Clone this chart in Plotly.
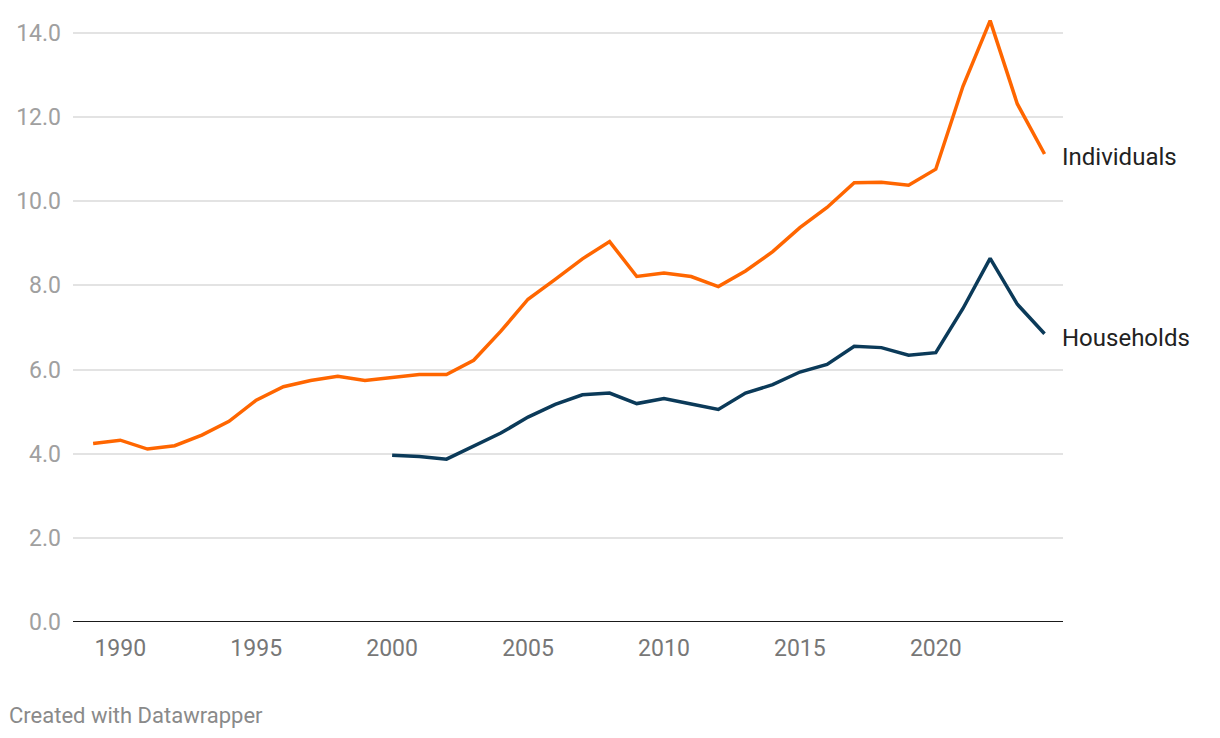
import plotly.graph_objects as go

years_ind = list(range(1989, 2025))
individuals = [4.24, 4.32, 4.11, 4.19, 4.44, 4.77, 5.27, 5.59, 5.74, 5.84,
               5.74, 5.80, 5.88, 5.88, 6.22, 6.91, 7.67, 8.14, 8.63, 9.04,
               8.21, 8.29, 8.21, 7.97, 8.34, 8.80, 9.37, 9.85, 10.44, 10.45,
               10.38, 10.76, 12.73, 14.29, 12.31, 11.12]

years_hh = list(range(2000, 2025))
households = [3.96, 3.93, 3.87, 4.19, 4.49, 4.87, 5.17, 5.40, 5.44, 5.19,
              5.31, 5.18, 5.05, 5.44, 5.64, 5.94, 6.12, 6.55, 6.52, 6.34,
              6.40, 7.45, 8.64, 7.55, 6.85]

y_ticks = [0, 2, 4, 6, 8, 10, 12, 14]
x_ticks = [1990, 1995, 2000, 2005, 2010, 2015, 2020]

ORANGE = "#ff6600"
NAVY = "#0b3a59"
FONT = "Roboto"

# page body has an 8px margin; plot area target: x 68..1063, y 16..622 (page px)
L, T = 60, 8
PW, PH = 995, 606
W, H = 1220, 738

fig = go.Figure()
fig.add_trace(go.Scatter(x=years_ind, y=individuals, mode="lines",
                         line=dict(color=ORANGE, width=3.5), name="Individuals",
                         hoverinfo="x+y"))
fig.add_trace(go.Scatter(x=years_hh, y=households, mode="lines",
                         line=dict(color=NAVY, width=3.5), name="Households",
                         hoverinfo="x+y"))

fig.add_annotation(x=years_ind[-1], y=individuals[-1], xref="x", yref="y",
                   text="Individuals", showarrow=False, xanchor="left",
                   xshift=15, yshift=-3, font=dict(family=FONT, size=24, color="#222222"))
fig.add_annotation(x=years_hh[-1], y=households[-1], xref="x", yref="y",
                   text="Households", showarrow=False, xanchor="left",
                   xshift=15, yshift=-4, font=dict(family=FONT, size=24, color="#222222"))

fig.add_annotation(x=(-6 - L) / PW, y=(PH + T - 707) / PH, xref="paper", yref="paper",
                   text="Created with Datawrapper",
                   showarrow=False, xanchor="left", yanchor="middle",
                   font=dict(family=FONT, size=22, color="#8a8a8a"))

fig.update_layout(
    width=W, height=H,
    margin=dict(l=L, r=W - L - PW, t=T, b=H - T - PH),
    paper_bgcolor="white", plot_bgcolor="white",
    showlegend=False,
    font=dict(family=FONT),
    xaxis=dict(range=[1988.26, 2024.68], tickvals=x_ticks,
               ticktext=[str(v) for v in x_ticks],
               showgrid=False, zeroline=False, showline=False,
               ticks="", ticklabelstandoff=10,
               tickfont=dict(family=FONT, size=23, color="#777777")),
    yaxis=dict(range=[0, 14.4], tickvals=y_ticks,
               ticktext=[f"{v:.1f}" for v in y_ticks],
               showgrid=True, gridcolor="#e3e3e3", gridwidth=1.5,
               zeroline=False, showline=False, ticks="",
               ticklabelstandoff=11,
               tickfont=dict(family=FONT, size=23, color="#a0a0a0")),
)

fig.add_shape(type="line", xref="paper", yref="y", x0=0, x1=1, y0=0, y1=0,
              line=dict(color="#1a1a1a", width=2))

fig.write_html("out.html")
